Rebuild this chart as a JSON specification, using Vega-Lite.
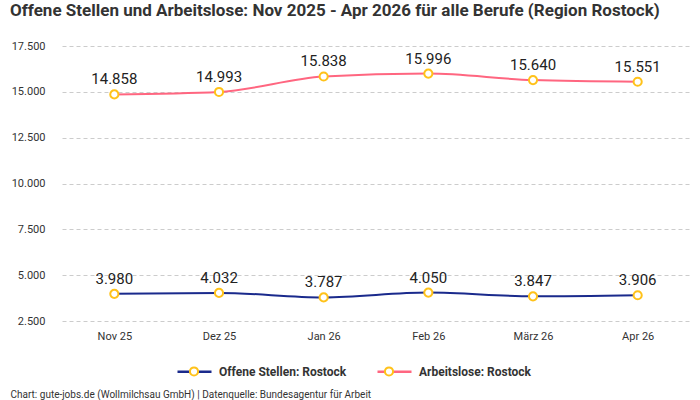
{
  "$schema": "https://vega.github.io/schema/vega-lite/v6.json",
  "width": 628,
  "height": 275,
  "autosize": {"type": "none"},
  "padding": {"left": 62, "top": 46, "right": 10, "bottom": 79},
  "background": "white",
  "title": {
    "text": "Offene Stellen und Arbeitslose: Nov 2025 - Apr 2026 für alle Berufe (Region Rostock)",
    "anchor": "start",
    "frame": "group",
    "dx": -52,
    "offset": 20,
    "fontSize": 17,
    "font": "Roboto",
    "fontWeight": "bold",
    "color": "#333333"
  },
  "config": {
    "locale": {"number": {"decimal": ",", "thousands": ".", "grouping": [3], "currency": ["", " €"]}},
    "view": {"stroke": null},
    "font": "Roboto"
  },
  "data": {
    "values": [
      {"monat": "Nov 25", "reihe": "Offene Stellen: Rostock", "wert": 3980},
      {"monat": "Dez 25", "reihe": "Offene Stellen: Rostock", "wert": 4032},
      {"monat": "Jan 26", "reihe": "Offene Stellen: Rostock", "wert": 3787},
      {"monat": "Feb 26", "reihe": "Offene Stellen: Rostock", "wert": 4050},
      {"monat": "März 26", "reihe": "Offene Stellen: Rostock", "wert": 3847},
      {"monat": "Apr 26", "reihe": "Offene Stellen: Rostock", "wert": 3906},
      {"monat": "Nov 25", "reihe": "Arbeitslose: Rostock", "wert": 14858},
      {"monat": "Dez 25", "reihe": "Arbeitslose: Rostock", "wert": 14993},
      {"monat": "Jan 26", "reihe": "Arbeitslose: Rostock", "wert": 15838},
      {"monat": "Feb 26", "reihe": "Arbeitslose: Rostock", "wert": 15996},
      {"monat": "März 26", "reihe": "Arbeitslose: Rostock", "wert": 15640},
      {"monat": "Apr 26", "reihe": "Arbeitslose: Rostock", "wert": 15551}
    ]
  },
  "encoding": {
    "x": {
      "field": "monat",
      "type": "ordinal",
      "sort": ["Nov 25", "Dez 25", "Jan 26", "Feb 26", "März 26", "Apr 26"],
      "scale": {"type": "point", "padding": 0.5},
      "axis": {
        "labelAngle": 0,
        "domain": false,
        "ticks": false,
        "grid": false,
        "labelPadding": 9,
        "labelFontSize": 11,
        "labelColor": "#333333",
        "title": "Chart: gute-jobs.de (Wollmilchsau GmbH) | Datenquelle: Bundesagentur für Arbeit",
        "titleAnchor": "start",
        "titleAlign": "left",
        "titleX": -52,
        "titleY": 76,
        "titleBaseline": "alphabetic",
        "titleFontSize": 10,
        "titleFontWeight": "normal",
        "titleColor": "#333333"
      }
    },
    "y": {
      "field": "wert",
      "type": "quantitative",
      "scale": {"domain": [2500, 17500], "nice": false, "zero": false},
      "axis": {
        "values": [2500, 5000, 7500, 10000, 12500, 15000, 17500],
        "format": ",.0f",
        "domain": false,
        "ticks": false,
        "grid": true,
        "gridDash": [4, 3],
        "gridColor": "#cccccc",
        "labelPadding": 17,
        "labelFontSize": 11,
        "labelColor": "#333333",
        "title": null
      }
    }
  },
  "layer": [
    {
      "mark": {"type": "line", "interpolate": "monotone", "strokeWidth": 2},
      "encoding": {
        "color": {
          "field": "reihe",
          "type": "nominal",
          "scale": {"domain": ["Offene Stellen: Rostock", "Arbeitslose: Rostock"], "range": ["#1a2a8c", "#ff6680"]},
          "legend": {
            "orient": "none",
            "legendX": 114,
            "legendY": 307,
            "direction": "horizontal",
            "title": null,
            "symbolType": "stroke",
            "symbolSize": 1156,
            "symbolStrokeWidth": 2.5,
            "labelFontSize": 12,
            "labelFontWeight": "bold",
            "labelColor": "#333333",
            "labelOffset": 6,
            "columnPadding": 25
          }
        }
      }
    },
    {
      "mark": {"type": "point", "filled": true, "fill": "white", "stroke": "#ffc21a", "strokeWidth": 2, "size": 1156, "opacity": 1},
      "encoding": {
        "shape": {
          "field": "reihe",
          "type": "nominal",
          "sort": "descending",
          "scale": {"range": ["M-0.24,0A0.24,0.24 0 1,0 0.24,0A0.24,0.24 0 1,0 -0.24,0Z", "M-0.24,0A0.24,0.24 0 1,0 0.24,0A0.24,0.24 0 1,0 -0.24,0Z"]},
          "legend": {
            "orient": "none",
            "legendX": 114,
            "legendY": 307,
            "direction": "horizontal",
            "title": null,
            "symbolSize": 1156,
            "labelFontSize": 12,
            "labelFontWeight": "bold",
            "labelColor": "#333333",
            "labelOpacity": 0,
            "labelOffset": 6,
            "columnPadding": 25,
            "encoding": {
              "symbols": {
                "fill": {"value": "white"},
                "stroke": {"value": "#ffc21a"},
                "strokeWidth": {"value": 2},
                "opacity": {"value": 1}
              }
            }
          }
        }
      }
    },
    {
      "mark": {"type": "text", "dy": -10, "baseline": "alphabetic", "fontSize": 15, "color": "#222222"},
      "encoding": {"text": {"field": "wert", "type": "quantitative", "format": ",.0f"}}
    }
  ]
}
